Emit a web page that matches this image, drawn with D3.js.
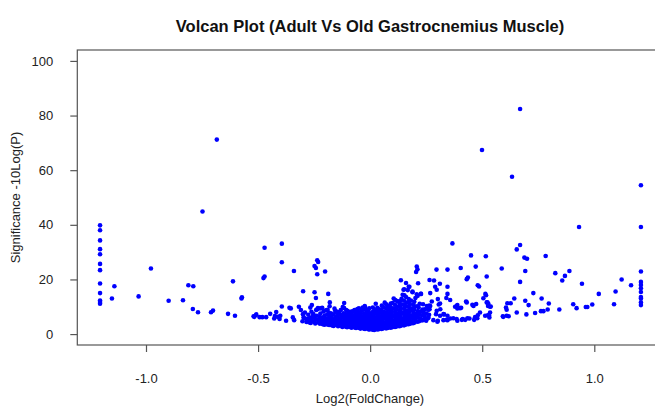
<!DOCTYPE html>
<html>
<head>
<meta charset="utf-8">
<script src="https://cdn.jsdelivr.net/npm/d3@7"></script>
<style>
  body { margin: 0; background: #fff; }
  svg { display: block; font-family: "Liberation Sans", Arial, sans-serif; }
</style>
</head>
<body>
<div class="chart"></div>
<script>
// axis ticks
var xTicks = [-1.0, -0.5, 0.0, 0.5, 1.0];
var yTicks = [0, 20, 40, 60, 80, 100];

// genes clipped at the fold change limits (stacked columns at both edges)
var leftEdgeFC = -1.205;
var leftEdgeSig = [39.8, 38.0, 34.3, 31.1, 29.2, 25.7, 23.4, 18.5, 15.0, 12.3, 11.7, 11.1];
var rightEdgeFC = 1.208;
var rightEdgeSig = [54.5, 39.2, 22.9, 19.1, 18.0, 16.8, 15.4, 13.6, 13.0, 11.6, 10.6];

// [log2 fold change, significance]
var outerLeft = [
  [-1.152,13.0],[-1.141,17.5],[-1.033,13.8],[-0.978,24.0],[-0.899,12.2],[-0.835,12.4],
  [-0.811,17.9],[-0.789,17.5],[-0.791,9.2],[-0.768,8.0],[-0.748,44.9],[-0.710,8.0],
  [-0.701,8.6],[-0.684,71.2],[-0.612,19.3],[-0.634,7.4],[-0.603,6.7],[-0.574,13.0],
  [-0.572,13.5],[-0.471,31.6],[-0.476,20.5],[-0.471,21.1],[-0.394,33.1],[-0.394,26.3],
  [-0.340,23.1],[-0.299,15.7],[-0.248,15.3],[-0.242,13.2],[-0.187,14.7],[-0.180,11.6],
  [-0.248,24.9],[-0.242,24.2],[-0.236,27.0],[-0.232,26.4],[-0.236,21.9],[-0.201,22.9],
  [-0.116,11.4]
];

var leftBand = [
  [-0.520,6.5],[-0.508,7.2],[-0.493,6.2],[-0.481,6.2],[-0.464,6.2],[-0.446,7.4],[-0.425,6.6],
  [-0.419,8.1],[-0.404,5.5],[-0.401,6.7],[-0.394,10.1],[-0.360,9.6],[-0.354,9.4],[-0.517,6.3],
  [-0.510,6.9],[-0.428,5.7],[-0.413,6.3],[-0.375,4.9],[-0.345,6.1],[-0.339,5.1],[-0.318,10.0],
  [-0.309,8.8],[-0.300,7.3],[-0.294,5.8],[-0.282,4.9],[-0.267,9.7],[-0.260,10.6],[-0.253,7.3],
  [-0.241,8.8],[-0.233,9.5],[-0.223,9.4],[-0.214,9.6],[-0.208,8.3],[-0.190,8.9],[-0.181,10.2],
  [-0.175,7.6],[-0.156,8.5],[-0.126,6.9],[-0.116,9.5],[-0.107,8.8],[-0.080,8.3],[-0.070,8.8],
  [-0.050,9.4],[-0.033,9.7],[-0.022,9.7],[-0.015,8.8]
];

var core = [
  [-0.302,4.7],[-0.297,6.2],[-0.291,7.9],[-0.284,4.4],[-0.279,5.6],[-0.276,7.1],
  [-0.265,4.1],[-0.261,5.1],[-0.257,6.5],[-0.262,8.2],[-0.245,3.9],[-0.241,5.3],[-0.238,6.7],[-0.236,9.1],
  [-0.224,3.8],[-0.219,4.7],[-0.215,5.9],[-0.222,7.5],[-0.204,3.4],[-0.199,4.4],[-0.196,5.5],[-0.203,6.8],[-0.198,8.7],
  [-0.183,3.3],[-0.178,4.0],[-0.176,5.1],[-0.181,6.3],[-0.185,7.9],
  [-0.163,3.0],[-0.158,3.8],[-0.161,4.9],[-0.155,6.0],[-0.165,7.2],[-0.159,9.3],
  [-0.143,2.9],[-0.137,3.7],[-0.141,4.4],[-0.135,5.6],[-0.144,6.7],[-0.139,8.1],
  [-0.124,2.6],[-0.118,3.5],[-0.121,4.3],[-0.115,5.1],[-0.126,6.2],[-0.119,7.6],[-0.122,9.9],
  [-0.103,2.5],[-0.097,3.3],[-0.101,3.9],[-0.095,5.0],[-0.105,5.8],[-0.099,7.1],[-0.102,8.5],
  [-0.083,2.3],[-0.078,3.1],[-0.081,3.7],[-0.076,4.8],[-0.085,5.5],[-0.079,6.7],[-0.082,7.8],
  [-0.063,2.2],[-0.058,2.8],[-0.061,3.7],[-0.056,4.4],[-0.065,5.3],[-0.059,6.4],[-0.062,7.3],[-0.057,9.2],
  [-0.043,2.0],[-0.038,2.8],[-0.041,3.5],[-0.036,4.2],[-0.045,5.2],[-0.039,6.1],[-0.042,7.0],[-0.037,8.5],
  [-0.023,1.9],[-0.018,2.5],[-0.021,3.4],[-0.016,4.2],[-0.025,4.9],[-0.019,5.9],[-0.022,6.9],[-0.017,7.9],[-0.024,10.3],
  [-0.003,1.7],[0.002,2.5],[-0.001,3.1],[0.004,3.9],[-0.005,4.9],[0.001,5.6],[-0.002,6.7],[0.003,7.6],[-0.004,9.4],
  [0.018,1.5],[0.023,2.3],[0.019,3.2],[0.024,3.8],[0.016,4.6],[0.021,5.7],[0.017,6.4],[0.022,7.6],[0.020,8.8],[0.025,11.1],
  [0.038,1.8],[0.043,2.6],[0.039,3.2],[0.044,4.2],[0.036,4.8],[0.041,5.9],[0.037,6.6],[0.042,7.9],[0.040,9.1],
  [0.058,2.1],[0.063,2.6],[0.059,3.6],[0.064,4.2],[0.056,5.3],[0.061,6.0],[0.057,7.2],[0.062,8.1],[0.060,9.8],[0.065,11.5],
  [0.078,2.2],[0.083,3.0],[0.079,3.6],[0.084,4.7],[0.076,5.4],[0.081,6.6],[0.077,7.5],[0.082,8.9],[0.080,10.3],
  [0.098,2.5],[0.103,3.1],[0.099,4.1],[0.104,4.8],[0.096,6.0],[0.101,6.9],[0.097,8.2],[0.102,9.4],[0.100,11.4],[0.105,13.0],
  [0.118,2.8],[0.123,3.4],[0.119,4.5],[0.124,5.2],[0.116,6.4],[0.121,7.3],[0.117,8.8],[0.122,10.0],[0.120,12.1],
  [0.138,3.1],[0.143,3.7],[0.139,4.9],[0.144,5.7],[0.136,7.0],[0.141,7.9],[0.137,9.4],[0.142,10.8],[0.140,12.9],[0.145,14.4],
  [0.158,3.4],[0.163,4.1],[0.159,5.3],[0.164,6.2],[0.156,7.5],[0.161,8.5],[0.157,10.1],[0.162,11.5],[0.160,13.6],
  [0.178,3.8],[0.183,4.6],[0.179,5.9],[0.184,6.8],[0.176,8.2],[0.181,9.3],[0.177,10.9],[0.182,12.3],
  [0.198,4.2],[0.203,5.1],[0.199,6.4],[0.204,7.4],[0.196,8.9],[0.201,10.1],[0.197,11.8],[0.202,13.2],
  [0.218,4.7],[0.223,5.7],[0.219,7.1],[0.224,8.2],[0.216,9.8],[0.221,11.1],
  [0.238,5.2],[0.243,6.3],[0.239,7.9],[0.244,9.1],[0.236,10.9],
  [0.258,5.8],[0.263,7.1],[0.259,8.9],[0.264,10.4],
  [-0.113,3.0],[-0.092,2.8],[-0.071,2.6],[-0.052,2.4],[-0.031,2.2],[-0.011,2.1],[0.009,2.0],[0.029,2.0],
  [0.049,2.3],[0.069,2.5],[0.089,2.7],[0.109,2.9],[0.129,3.3],[0.149,3.6],[0.169,4.0],
  [-0.112,4.7],[-0.091,4.3],[-0.072,4.1],[-0.051,3.9],[-0.031,3.8],[-0.012,3.6],[0.008,3.5],[0.028,3.5],
  [0.048,3.8],[0.068,4.0],[0.088,4.2],[0.108,4.5],[0.128,4.9],[0.148,5.4],[0.168,5.8],[0.188,6.3],
  [-0.111,6.5],[-0.092,6.2],[-0.071,5.9],[-0.052,5.7],[-0.032,5.4],[-0.011,5.2],[0.009,5.1],[0.029,5.0],
  [0.049,5.4],[0.069,5.8],[0.089,6.1],[0.109,6.5],[0.129,7.0],[0.149,7.6],[0.169,8.1],[0.189,8.7],
  [-0.152,8.3],[-0.131,8.8],[-0.091,8.2],[-0.052,8.1],[-0.012,8.4],[0.012,9.7],[0.052,10.4],[0.092,11.2],
  [0.132,12.0],[0.172,12.8],[0.212,14.0]
];

// second pass over the dense cloud (between the first pass columns)
var coreFill = [
  [-0.272,4.3],[-0.268,5.9],[-0.252,4.6],[-0.249,6.0],[-0.231,4.2],[-0.228,5.4],[-0.226,6.4],
  [-0.211,3.6],[-0.207,4.9],[-0.209,6.1],[-0.191,3.5],[-0.189,4.6],[-0.187,5.7],[-0.192,7.1],
  [-0.171,3.2],[-0.168,4.4],[-0.169,5.5],[-0.172,6.7],[-0.151,3.3],[-0.148,4.2],[-0.152,5.1],
  [-0.149,6.3],[-0.147,7.4],[-0.131,3.1],[-0.129,3.9],[-0.133,4.8],[-0.128,5.9],[-0.132,7.1],
  [-0.108,2.7],[-0.111,3.6],[-0.107,4.5],[-0.109,5.4],[-0.112,7.4],[-0.089,2.6],[-0.088,3.5],
  [-0.087,4.7],[-0.088,5.8],[-0.089,7.0],[-0.068,2.4],[-0.069,3.3],[-0.067,4.6],[-0.068,5.6],
  [-0.069,6.8],[-0.067,8.0],[-0.048,2.2],[-0.049,3.1],[-0.047,4.6],[-0.048,5.9],[-0.049,6.9],
  [-0.047,7.7],[-0.028,2.0],[-0.029,3.0],[-0.027,4.5],[-0.028,5.6],[-0.029,6.5],[-0.027,7.5],
  [-0.028,9.0],[-0.008,1.8],[-0.009,2.9],[-0.007,4.4],[-0.008,5.3],[-0.009,6.2],[-0.007,7.2],
  [-0.008,8.8],[0.011,1.6],[0.012,2.8],[0.013,4.2],[0.011,5.4],[0.012,6.1],[0.013,7.0],
  [0.011,8.1],[0.031,1.7],[0.032,2.7],[0.033,4.3],[0.031,5.3],[0.032,6.2],[0.033,7.1],
  [0.031,8.4],[0.032,9.6],[0.051,1.9],[0.052,3.1],[0.053,4.6],[0.051,5.7],[0.052,6.6],
  [0.053,7.6],[0.051,8.8],[0.071,2.1],[0.072,3.3],[0.073,4.9],[0.071,6.2],[0.072,7.0],
  [0.073,8.0],[0.071,9.4],[0.072,10.9],[0.091,2.3],[0.092,3.6],[0.093,5.3],[0.091,6.6],
  [0.092,7.6],[0.093,8.6],[0.091,9.9],[0.111,2.6],[0.112,3.9],[0.113,5.7],[0.111,7.0],
  [0.112,8.1],[0.113,9.2],[0.111,10.7],[0.112,12.5],[0.131,2.9],[0.132,4.2],[0.133,6.1],
  [0.131,7.5],[0.132,8.6],[0.133,9.9],[0.131,11.3],[0.151,3.2],[0.152,4.6],[0.153,6.6],
  [0.151,8.0],[0.152,9.3],[0.153,10.6],[0.151,12.2],[0.171,3.6],[0.172,5.1],[0.173,7.1],
  [0.171,8.7],[0.172,10.0],[0.173,11.6],[0.191,4.0],[0.192,5.6],[0.193,7.7],[0.191,9.4],
  [0.192,10.8],[0.211,4.5],[0.212,6.2],[0.213,8.4],[0.211,10.2],[0.231,5.0],[0.232,6.8],
  [0.233,9.0],[0.251,5.5],[0.252,7.5]
];

var shoulderRight = [
  [0.137,19.7],[0.160,18.7],[0.214,18.6],[0.265,19.8],[0.285,19.6],[0.311,18.4],[0.290,17.3],[0.297,16.2],
  [0.152,16.4],[0.172,17.3],[0.189,15.6],[0.226,14.7],[0.345,14.7],[0.340,13.2],[0.268,15.0],[0.428,11.9],
  [0.386,10.3],[0.389,9.4],[0.456,10.7],[0.406,9.6],[0.520,11.6],[0.526,10.3],[0.313,9.1],[0.306,10.8],
  [0.253,10.3],[0.262,9.1],[0.294,7.3],[0.330,7.2],[0.357,5.7],[0.327,5.1],[0.342,5.2],[0.386,5.5],
  [0.413,5.5],[0.434,5.8],[0.443,5.7],[0.468,6.2],[0.480,6.9],[0.300,4.5],[0.345,17.3],[0.175,17.3],
  [0.168,16.1],[0.149,16.2],[0.153,14.2],[0.189,15.3],[0.208,14.6],[0.227,14.7],[0.302,12.8],[0.312,11.2],
  [0.357,12.5],[0.275,11.9],[0.268,10.3],[0.265,9.1],[0.389,10.6],[0.379,10.0],[0.401,9.5],[0.431,11.6],
  [0.461,10.3],[0.473,11.0],[0.327,7.3],[0.345,5.1],[0.371,5.8],[0.345,6.7],[0.409,5.2],[0.424,5.2],
  [0.464,5.2],[0.478,5.8],[0.389,4.9],[0.297,8.5],[0.312,6.7],[0.302,4.9],[0.282,5.1],[0.260,6.1],
  [0.250,4.9],[0.238,7.3]
];

var outerRight = [
  [0.669,82.4],[0.499,67.4],[0.633,57.6],[0.932,39.2],[0.654,31.0],[0.669,32.6],[0.367,33.2],[0.450,28.8],
  [0.516,28.5],[0.688,28.0],[0.700,27.6],[0.783,28.6],[0.587,24.0],[0.692,23.1],[0.669,19.1],[0.826,22.3],
  [0.889,23.1],[0.869,21.3],[0.857,19.6],[0.945,18.4],[0.520,21.1],[0.431,20.1],[0.436,20.7],[0.404,24.2],
  [0.471,24.7],[0.345,23.6],[0.296,23.6],[0.208,24.7],[0.211,23.7],[0.205,22.7],
  [0.505,13.1],[0.517,14.2],[0.523,11.6],[0.538,10.1],[0.535,7.9],[0.525,6.9],[0.532,6.1],[0.592,6.5],
  [0.609,6.7],[0.618,6.5],[0.606,9.7],[0.612,11.3],[0.609,8.9],[0.627,11.3],[0.643,13.0],[0.654,7.9],
  [0.692,12.2],[0.707,10.6],[0.697,7.2],[0.728,15.0],[0.736,7.7],[0.765,13.0],[0.762,8.4],[0.773,8.4],
  [0.797,11.2],[0.792,9.0],[0.844,9.0],[0.906,10.9],[0.921,9.5],[0.962,9.9],[0.969,9.9],[0.991,10.8],
  [1.020,14.7],[1.088,10.9],[1.095,15.6],[1.122,20.0],[1.164,17.9],[0.480,17.9],[0.486,17.4],[0.514,14.7],
  [0.594,6.3],[0.513,6.7],[0.530,6.9],[0.490,7.9],[0.527,11.2],[0.535,10.0]
];

var svgWidth = 655;
var svgHeight = 406;

// plot region (R style, right edge runs past the picture)
var plot = { left: 77.3, right: 663, top: 50, bottom: 345 };

var svg = d3.select(".chart")
  .append("svg")
  .attr("width", svgWidth)
  .attr("height", svgHeight);

var x = d3.scaleLinear()
  .domain([-1.3065, 1.3065])
  .range([plot.left, plot.right]);

var y = d3.scaleLinear()
  .domain([-4, 104])
  .range([plot.bottom, plot.top]);

// collect all points
var points = [];
leftEdgeSig.forEach(function(s) { points.push([leftEdgeFC, s]); });
rightEdgeSig.forEach(function(s) { points.push([rightEdgeFC, s]); });
[outerLeft, leftBand, core, coreFill, shoulderRight, outerRight].forEach(function(group) {
  group.forEach(function(p) { points.push(p); });
});

svg.append("g").selectAll("circle")
  .data(points)
  .enter()
  .append("circle")
  .attr("cx", d => x(d[0]))
  .attr("cy", d => y(d[1]))
  .attr("r", 2.3)
  .attr("fill", "#0000ff");

// box
svg.append("rect")
  .attr("x", plot.left)
  .attr("y", plot.top)
  .attr("width", plot.right - plot.left)
  .attr("height", plot.bottom - plot.top)
  .attr("fill", "none")
  .attr("stroke", "#555")
  .attr("stroke-width", 1.2);

// axes
var leftAxis = d3.axisLeft(y)
  .tickValues(yTicks)
  .tickSize(7)
  .tickPadding(17)
  .tickFormat(d => d);

var bottomAxis = d3.axisBottom(x)
  .tickValues(xTicks)
  .tickSize(7)
  .tickPadding(22)
  .tickFormat(d => d.toFixed(1));

var yAxisG = svg.append("g")
  .attr("transform", `translate(${plot.left}, 0)`)
  .call(leftAxis);

var xAxisG = svg.append("g")
  .attr("transform", `translate(0, ${plot.bottom})`)
  .call(bottomAxis);

[yAxisG, xAxisG].forEach(function(g) {
  g.select(".domain").remove();
  g.selectAll(".tick line").attr("stroke", "#555").attr("stroke-width", 1.2);
  g.selectAll(".tick text")
    .attr("fill", "#222")
    .style("font-size", "13px")
    .style("font-family", "'Liberation Sans', Arial, sans-serif");
});

// titles
svg.append("text")
  .attr("x", 370)
  .attr("y", 32)
  .attr("text-anchor", "middle")
  .style("font-size", "16.5px")
  .style("font-weight", "bold")
  .attr("fill", "#111")
  .text("Volcan Plot (Adult Vs Old Gastrocnemius Muscle)");

svg.append("text")
  .attr("x", 370)
  .attr("y", 403)
  .attr("text-anchor", "middle")
  .style("font-size", "13px")
  .attr("fill", "#222")
  .text("Log2(FoldChange)");

svg.append("text")
  .attr("transform", `translate(20, ${(plot.top + plot.bottom) / 2}) rotate(-90)`)
  .attr("text-anchor", "middle")
  .style("font-size", "13px")
  .attr("fill", "#222")
  .text("Significance -10Log(P)");
</script>
</body>
</html>
